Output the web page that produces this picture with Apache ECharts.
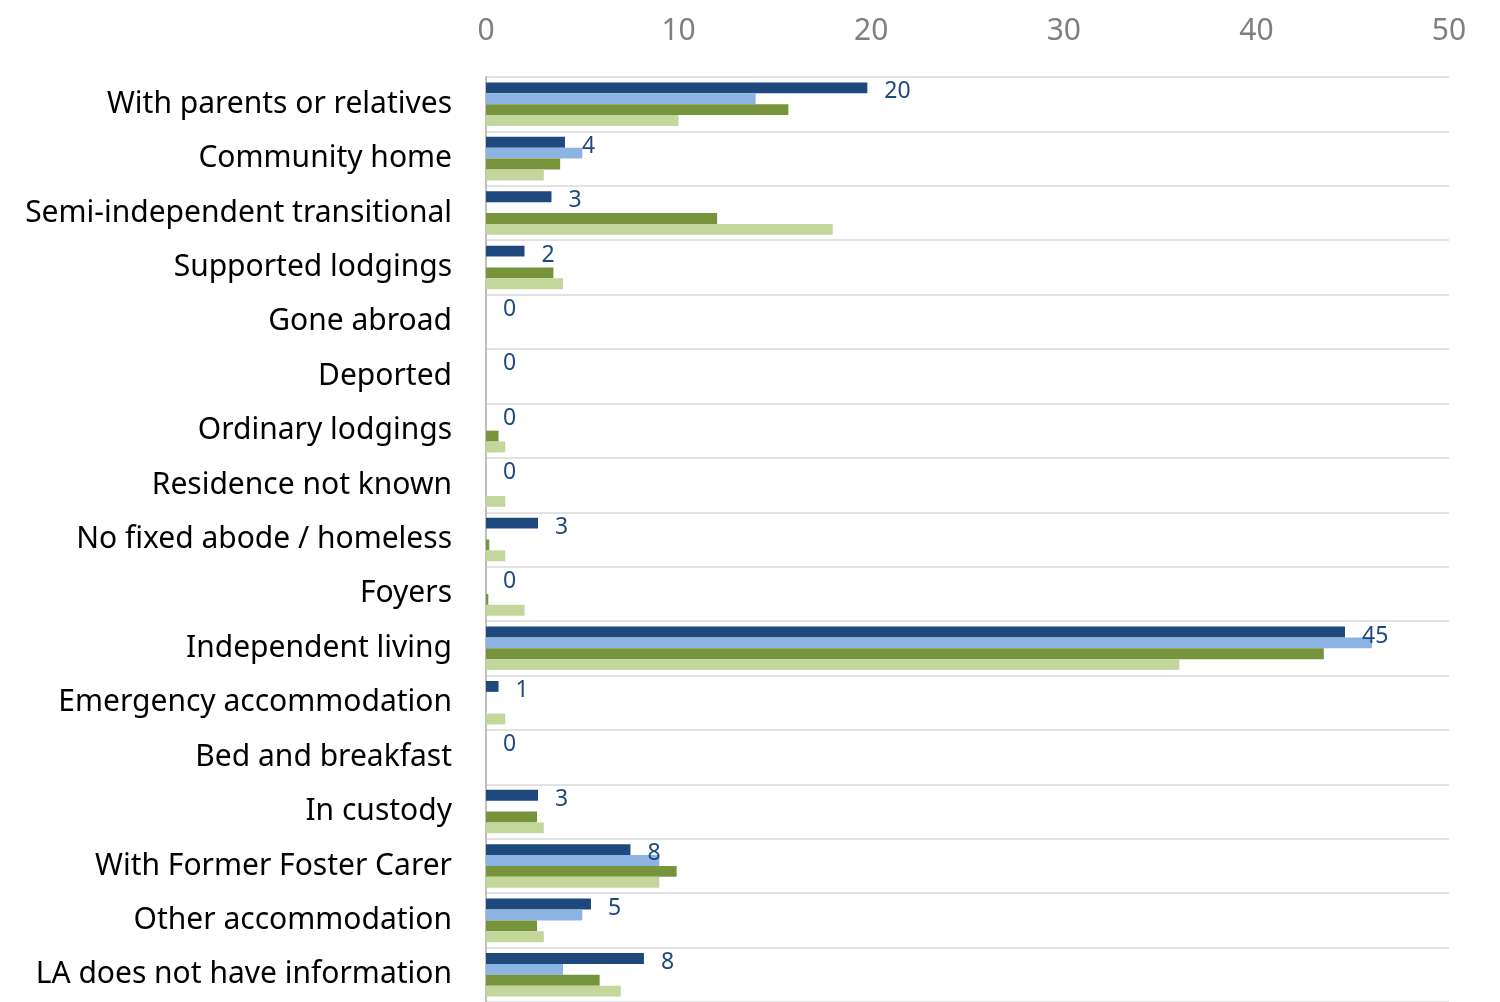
<!DOCTYPE html>
<html>
<head>
<meta charset="utf-8">
<script src="https://cdn.jsdelivr.net/npm/echarts@6/dist/echarts.min.js"></script>
<style>
html,body{margin:0;padding:0;background:#fff;}
#chart{width:1500px;height:1002px;}
</style>
</head>
<body>
<div id="chart"></div>
<script>
const categories = [
  "With parents or relatives",
  "Community home",
  "Semi-independent transitional",
  "Supported lodgings",
  "Gone abroad",
  "Deported",
  "Ordinary lodgings",
  "Residence not known",
  "No fixed abode / homeless",
  "Foyers",
  "Independent living",
  "Emergency accommodation",
  "Bed and breakfast",
  "In custody",
  "With Former Foster Carer",
  "Other accommodation",
  "LA does not have information"
];
const seriesDarkBlue  = [19.8, 4.1, 3.4, 2.0, 0, 0, 0, 0, 2.7, 0, 44.6, 0.65, 0, 2.7, 7.5, 5.45, 8.2];
const seriesLightBlue = [14.0, 5.0, 0, 0, 0, 0, 0, 0, 0, 0, 46.0, 0, 0, 0, 9.0, 5.0, 4.0];
const seriesDarkGreen = [15.7, 3.85, 12.0, 3.5, 0, 0, 0.65, 0, 0.17, 0.12, 43.5, 0, 0, 2.65, 9.9, 2.65, 5.9];
const seriesLightGreen= [10.0, 3.0, 18.0, 4.0, 0, 0, 1.0, 1.0, 1.0, 2.0, 36.0, 1.0, 0, 3.0, 9.0, 3.0, 7.0];
const xTicks = [0, 10, 20, 30, 40, 50];

const font = "'Noto Sans', 'Open Sans', sans-serif";
const chart = echarts.init(document.getElementById('chart'), null, {renderer: 'canvas'});

function bar(name, data, color, withLabel) {
  return {
    name: name,
    type: 'bar',
    data: data,
    barGap: '0%',
    barCategoryGap: '20%',
    itemStyle: {color: color},
    label: withLabel ? {
      show: true,
      position: 'right',
      distance: 17,
      offset: [0, 4],
      color: '#1F497D',
      fontSize: 23,
      fontFamily: font,
      formatter: p => String(Math.round(p.value))
    } : {show: false},
    emphasis: {disabled: true}
  };
}

chart.setOption({
  backgroundColor: '#ffffff',
  animation: false,
  grid: {left: 486, right: 51, top: 77, height: 928, containLabel: false},
  xAxis: {
    type: 'value',
    position: 'top',
    min: xTicks[0],
    max: xTicks[xTicks.length - 1],
    interval: 10,
    axisLine: {show: false},
    axisTick: {show: false},
    splitLine: {show: false},
    axisLabel: {color: '#7f7f7f', fontSize: 30, fontFamily: font, margin: 31}
  },
  yAxis: {
    type: 'category',
    inverse: true,
    data: categories,
    axisLine: {show: true, lineStyle: {color: '#bfbfbf', width: 2}},
    axisTick: {show: false},
    splitLine: {show: true, lineStyle: {color: '#d9d9d9', width: 1.5}},
    axisLabel: {color: '#000000', fontSize: 30, fontFamily: font, margin: 34, padding: [4, 0, 0, 0]}
  },
  series: [
    bar('Series 1', seriesDarkBlue, '#1F497D', true),
    bar('Series 2', seriesLightBlue, '#8DB3E2', false),
    bar('Series 3', seriesDarkGreen, '#77933C', false),
    bar('Series 4', seriesLightGreen, '#C3D69B', false)
  ]
});
</script>
</body>
</html>
